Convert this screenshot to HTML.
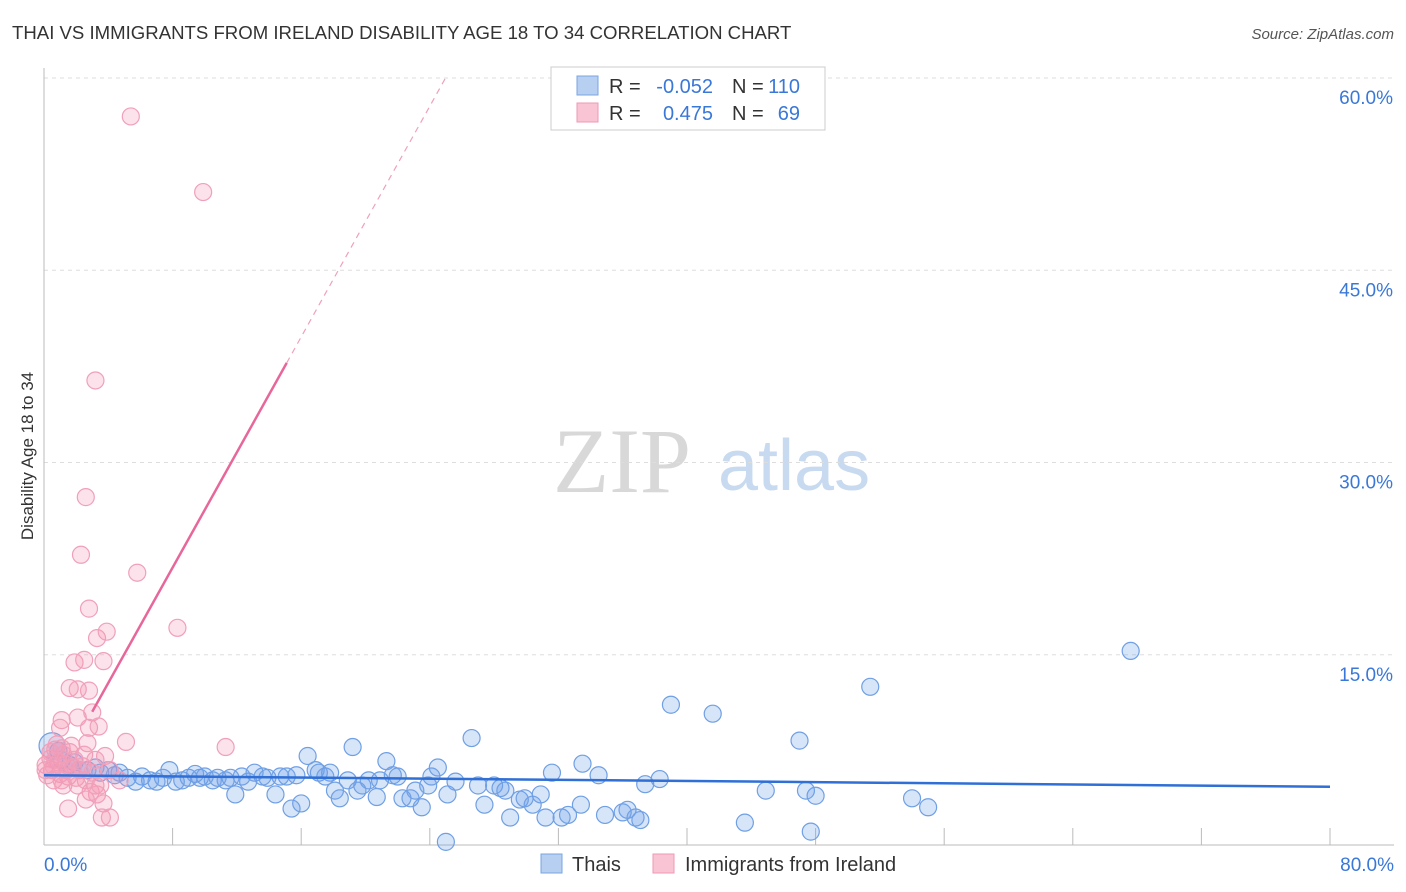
<!DOCTYPE html>
<html><head><meta charset="utf-8">
<style>
body{margin:0;background:#fff;font-family:"Liberation Sans",sans-serif;}
#wrap{position:relative;width:1406px;height:892px;overflow:hidden;}
</style></head>
<body>
<div id="wrap">
<svg id="svg" width="1406" height="892" xmlns="http://www.w3.org/2000/svg" font-family="Liberation Sans, sans-serif">
<text x="12" y="39" font-size="18.6" fill="#333">THAI VS IMMIGRANTS FROM IRELAND DISABILITY AGE 18 TO 34 CORRELATION CHART</text>
<text x="1394" y="39" font-size="15" fill="#555" font-style="italic" text-anchor="end">Source: ZipAtlas.com</text>
<text transform="translate(33,456) rotate(-90)" font-size="17" fill="#333" text-anchor="middle">Disability Age 18 to 34</text>
<g>
<text x="553" y="492" font-size="92" font-family="Liberation Serif, serif" fill="#d8d8d8">ZIP</text>
<text x="718" y="490" font-size="72" fill="#c8daf0">atlas</text>
</g>
<g id="grid"></g>
<g id="marks"></g>
<g>
<rect x="551" y="67" width="274" height="63" fill="#fff" stroke="#ccc"/>
<rect x="577" y="76" width="21" height="19" fill="#b7d0f2" stroke="#7aa5e0"/>
<rect x="577" y="103" width="21" height="19" fill="#f9c4d4" stroke="#ee9ab4"/>
<text x="609" y="93" font-size="20" fill="#333">R =</text>
<text x="713" y="93" font-size="20" fill="#3a78d8" text-anchor="end">-0.052</text>
<text x="732" y="93" font-size="20" fill="#333">N =</text>
<text x="800" y="93" font-size="20" fill="#3a78d8" text-anchor="end">110</text>
<text x="609" y="120" font-size="20" fill="#333">R =</text>
<text x="713" y="120" font-size="20" fill="#3a78d8" text-anchor="end">0.475</text>
<text x="732" y="120" font-size="20" fill="#333">N =</text>
<text x="800" y="120" font-size="20" fill="#3a78d8" text-anchor="end">69</text>
</g>
<g>
<rect x="541" y="854" width="21" height="19" fill="#b7d0f2" stroke="#7aa5e0"/>
<text x="572" y="871" font-size="20" fill="#333">Thais</text>
<rect x="653" y="854" width="21" height="19" fill="#f9c4d4" stroke="#ee9ab4"/>
<text x="685" y="871" font-size="20" fill="#333">Immigrants from Ireland</text>
</g>
</svg>
</div>
<script>
const xTicksLabels=["0.0%","80.0%"];
const yTickValues=[15,30,45,60];
const yTickLabels=["15.0%","30.0%","45.0%","60.0%"];
const thaiX=[0.5,0.9,1.1,1.6,1.9,2.2,2.7,3.2,3.5,4.0,4.4,4.7,5.2,5.7,6.1,6.6,7.0,7.4,7.8,8.2,8.6,9.0,9.4,9.7,10.0,10.5,10.8,11.3,11.6,11.9,12.3,12.7,13.1,13.6,13.9,14.4,14.7,15.1,15.4,15.7,16.0,16.4,16.9,17.1,17.5,17.8,18.1,18.4,18.9,19.2,19.5,19.8,20.2,20.7,20.9,21.3,21.7,22.0,22.3,22.8,23.1,23.5,23.9,24.1,24.5,25.0,25.1,25.6,26.6,27.0,27.4,28.0,28.4,28.7,29.0,29.6,29.9,30.4,30.9,31.2,31.6,32.2,32.6,33.4,33.5,34.5,34.9,36.0,36.3,36.8,37.1,37.4,38.3,39.0,41.6,43.6,44.9,47.0,47.4,47.7,48.0,51.4,54.0,55.0,67.6];
const thaiY=[7.9,7.5,6.8,6.4,6.6,6.0,6.0,6.2,5.8,6.0,5.6,5.8,5.4,5.1,5.5,5.2,5.1,5.4,6.0,5.1,5.2,5.4,5.7,5.4,5.5,5.2,5.4,5.2,5.4,4.1,5.5,5.1,5.8,5.5,5.4,4.1,5.5,5.5,3.0,5.6,3.4,7.1,6.0,5.8,5.5,5.8,4.4,3.8,5.2,7.8,4.4,4.8,5.2,3.9,5.2,6.7,5.6,5.5,3.8,3.8,4.4,3.1,4.8,5.5,6.2,0.4,4.1,5.1,8.5,4.8,3.3,4.8,4.6,4.4,2.3,3.7,3.8,3.3,4.1,2.3,5.8,2.3,2.5,3.3,6.5,5.6,2.5,2.7,2.9,2.3,2.1,4.9,5.3,11.1,10.4,1.9,4.4,8.3,4.4,1.2,4.0,12.5,3.8,3.1,15.3];
const irlX=[5.4,9.9,3.2,2.6,2.3,5.8,2.8,8.3,3.3,3.9,1.9,2.5,3.7,1.6,2.1,2.8,1.1,2.1,3.0,1.0,2.8,3.4,5.1,11.3,2.7,1.1,0.7,1.6,2.5,3.8,0.4,0.9,1.4,1.8,2.2,0.5,1.0,1.5,2.0,2.6,3.2,0.1,0.2,0.6,1.2,2.9,3.3,3.5,4.7,3.7,2.6,1.5,3.6,4.1,0.7,1.2,1.7,0.4,0.8,0.1,0.6,1.4,1.9,2.4,3.0,4.1,1.1,2.1,3.2];
const irlY=[57.0,51.1,36.4,27.3,22.8,21.4,18.6,17.1,16.3,16.8,14.4,14.6,14.5,12.4,12.3,12.2,9.9,10.1,10.5,9.3,9.3,9.4,8.2,7.8,8.1,7.7,7.6,7.4,7.2,7.1,6.9,6.6,6.4,6.2,6.0,6.0,5.7,5.5,5.4,5.2,4.8,6.4,5.6,5.2,4.8,4.3,4.1,4.8,5.2,3.4,3.7,3.0,2.3,2.3,6.8,7.2,7.9,7.4,8.0,6.0,6.3,6.0,6.8,6.3,5.8,6.0,5.2,4.8,6.8];
const thaiTrend=[5.6,4.7];
const irlTrend=[3.8,2.25];
const NS="http://www.w3.org/2000/svg";
const X0=44,X1=1330,Y0=847,Y1=78;
function sx(v){return X0+(v/80)*(X1-X0);}
function sy(v){return Y0-(v/60)*(Y0-Y1);}
function mk(tag,attrs,parent){const e=document.createElementNS(NS,tag);for(const k in attrs)e.setAttribute(k,attrs[k]);parent.appendChild(e);return e;}
const grid=document.getElementById('grid'),marks=document.getElementById('marks');
yTickValues.forEach((v,i)=>{
  const l=mk('line',{x1:X0,x2:1394,y1:sy(v),y2:sy(v),stroke:'#ddd','stroke-dasharray':'4,4'},grid);
  
  
  const t=mk('text',{x:1393,y:sy(v)+26,'font-size':19,fill:'#3a78d8','text-anchor':'end'},grid);
  t.textContent=yTickLabels[i];
  
  
});
const ax=mk('line',{x1:X0,x2:1394,y1:845,y2:845,stroke:'#bbb'},grid);


const ay=mk('line',{x1:X0,x2:X0,y1:68,y2:845,stroke:'#bbb'},grid);


for(let i=0;i<=10;i++){const tk=mk('line',{x1:sx(i*8),x2:sx(i*8),y1:828,y2:845,stroke:'#bbb'},grid);
  
  }
[[0,'start',X0],[1,'end',1394]].forEach(([i,a,x])=>{const t=mk('text',{x:x,y:871,'font-size':19,fill:'#3a78d8','text-anchor':a},grid);t.textContent=xTicksLabels[i];
  
  });
thaiX.forEach((x,i)=>{const c=mk('circle',{cx:sx(x),cy:sy(thaiY[i]),r:i==0?13:8.5,fill:'rgba(110,160,235,0.28)',stroke:'#6f9fe4','stroke-width':1.2},marks);
  
  });
irlX.forEach((x,i)=>{const c=mk('circle',{cx:sx(x),cy:sy(irlY[i]),r:8.5,fill:'rgba(245,150,180,0.28)',stroke:'#f0a0ba','stroke-width':1.2},marks);
  
  });
const tl=mk('line',{x1:sx(0),y1:sy(thaiTrend[0]),x2:sx(80),y2:sy(thaiTrend[1]),stroke:'#2f6fd6','stroke-width':2.5},marks);


const f=x=>irlTrend[0]+irlTrend[1]*x;
const xs=3,xe=15.1,xd=(60-irlTrend[0])/irlTrend[1];
const pl=mk('line',{x1:sx(xs),y1:sy(f(xs)),x2:sx(xe),y2:sy(f(xe)),stroke:'#e8679a','stroke-width':2.5},marks);


const pd=mk('line',{x1:sx(xe),y1:sy(f(xe)),x2:sx(xd),y2:sy(60),stroke:'#f0a0ba','stroke-width':1.2,'stroke-dasharray':'6,5'},marks);


</script>
</body></html>
